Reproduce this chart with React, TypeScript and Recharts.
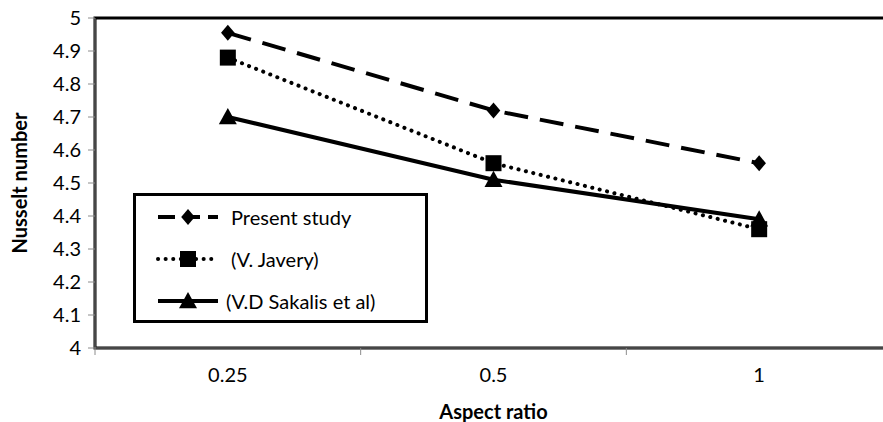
import React from "react";
import { LineChart, Line, XAxis, YAxis, ReferenceArea } from "recharts";

const categories = ["0.25", "0.5", "1"];
const presentStudy = [4.955, 4.72, 4.56];
const javery = [4.88, 4.56, 4.36];
const sakalis = [4.7, 4.51, 4.39];
const yTicks = [4, 4.1, 4.2, 4.3, 4.4, 4.5, 4.6, 4.7, 4.8, 4.9, 5];
const seriesNames = ["Present study", "(V. Javery)", "(V.D Sakalis et al)"];

const data = categories.map((c, i) => ({
  pos: i + 0.5,
  cat: c,
  present: presentStudy[i],
  javery: javery[i],
  sakalis: sakalis[i],
}));

const FONT = "Lato, 'Open Sans', sans-serif";

const Diamond = (props: any) => {
  const { cx, cy } = props;
  if (cx == null || cy == null) return null;
  const r = 8;
  return <path d={`M${cx},${cy - r}L${cx + r * 0.85},${cy}L${cx},${cy + r}L${cx - r * 0.85},${cy}Z`} fill="#000" />;
};
const Square = (props: any) => {
  const { cx, cy } = props;
  if (cx == null || cy == null) return null;
  const r = 8;
  return <rect x={cx - r} y={cy - r} width={2 * r} height={2 * r} fill="#000" />;
};
const Triangle = (props: any) => {
  const { cx, cy } = props;
  if (cx == null || cy == null) return null;
  const r = 9;
  return <path d={`M${cx},${cy - r}L${cx + r},${cy + r * 0.8}L${cx - r},${cy + r * 0.8}Z`} fill="#000" />;
};

const legendItems = [
  { name: seriesNames[0], dash: "17 8", cap: "butt", marker: "diamond" },
  { name: seriesNames[1], dash: "0.1 7.5", cap: "round", marker: "square" },
  { name: seriesNames[2], dash: "", cap: "butt", marker: "triangle" },
];

const LegendIcon = ({ item }: any) => (
  <svg width={64} height={22} style={{ display: "block" }}>
    <line x1={2} y1={11} x2={62} y2={11} stroke="#000" strokeWidth={4} strokeDasharray={item.dash || undefined} strokeLinecap={item.cap} />
    {item.marker === "diamond" && <Diamond cx={32} cy={11} />}
    {item.marker === "square" && <Square cx={32} cy={11} />}
    {item.marker === "triangle" && <Triangle cx={32} cy={11} />}
  </svg>
);

const YLabel = (props: any) => {
  const { viewBox } = props;
  const x = viewBox.x + 19;
  const y = viewBox.y + viewBox.height / 2;
  return (
    <text x={x} y={y} transform={`rotate(-90 ${x} ${y})`} textAnchor="middle" dominantBaseline="central" fontFamily={FONT} fontWeight="bold" fontSize={20} fill="#000">
      Nusselt number
    </text>
  );
};

export default function App() {
  return (
    <div style={{ position: "relative", width: 883, height: 422, overflow: "hidden", background: "#fff" }}>
      <style>{`body{margin:0;}`}</style>
      <LineChart width={900} height={422} data={data} margin={{ top: 18, right: 8, bottom: 0, left: 0 }}>
        <ReferenceArea xAxisId="b" x1={0} x2={3} y1={4} y2={5} fill="none" stroke="#000" strokeWidth={3} ifOverflow="visible" />
        <XAxis
          xAxisId="b"
          dataKey="pos"
          type="number"
          domain={[0, 3]}
          ticks={[0, 1, 2, 3]}
          tickFormatter={() => ""}
          height={8}
          tickSize={7}
          axisLine={{ stroke: "#8c8c8c", strokeWidth: 1 }}
          tickLine={{ stroke: "#8c8c8c" }}
        />
        <XAxis
          xAxisId="c"
          dataKey="pos"
          type="number"
          domain={[0, 3]}
          ticks={[0.5, 1.5, 2.5]}
          tickFormatter={(v: number) => categories[Math.floor(v)]}
          height={66}
          axisLine={false}
          tickLine={false}
          tickMargin={6}
          tick={{ fontFamily: FONT, fontSize: 20, fill: "#000" }}
          label={{ value: "Aspect ratio", position: "insideBottom", offset: 3, style: { fontFamily: FONT, fontWeight: "bold", fontSize: 20, fill: "#000" } }}
        />
        <YAxis
          type="number"
          domain={[4, 5]}
          ticks={yTicks}
          width={95}
          tickSize={7}
          tickMargin={7}
          tickFormatter={(v: number) => String(Math.round(v * 10) / 10)}
          axisLine={{ stroke: "#8c8c8c", strokeWidth: 1 }}
          tickLine={{ stroke: "#8c8c8c" }}
          tick={{ fontFamily: FONT, fontSize: 20, fill: "#000" }}
          label={<YLabel />}
        />
        <Line xAxisId="b" dataKey="present" name={seriesNames[0]} stroke="#000" strokeWidth={4} strokeDasharray="24 12" dot={<Diamond />} activeDot={false} isAnimationActive={false} />
        <Line xAxisId="b" dataKey="javery" name={seriesNames[1]} stroke="#000" strokeWidth={4} strokeDasharray="0.1 7.5" strokeLinecap="round" dot={<Square />} activeDot={false} isAnimationActive={false} />
        <Line xAxisId="b" dataKey="sakalis" name={seriesNames[2]} stroke="#000" strokeWidth={4} dot={<Triangle />} activeDot={false} isAnimationActive={false} />
      </LineChart>
      <div
        style={{
          position: "absolute",
          left: 133,
          top: 193,
          width: 295,
          height: 130,
          boxSizing: "border-box",
          border: "3px solid #000",
          background: "#fff",
          fontFamily: FONT,
          fontSize: 20,
          color: "#000",
        }}
      >
        {legendItems.map((it, i) => (
          <div key={i} style={{ position: "absolute", left: 20, top: 8 + i * 42, height: 26, display: "flex", alignItems: "center" }}>
            <LegendIcon item={it} />
            <span style={{ marginLeft: i === 2 ? 6 : 11, whiteSpace: "nowrap" }}>{it.name}</span>
          </div>
        ))}
      </div>
    </div>
  );
}
